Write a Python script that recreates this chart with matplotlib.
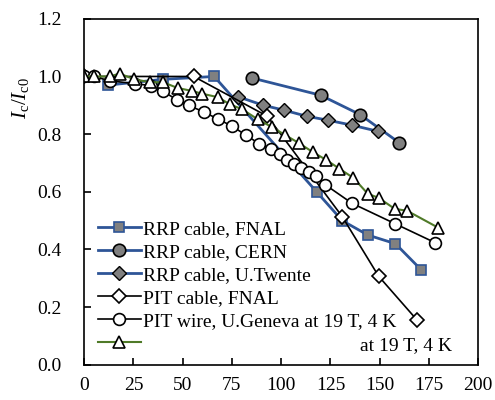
import matplotlib.pyplot as plt

plt.rcParams['font.family'] = 'Liberation Serif'
plt.rcParams['mathtext.fontset'] = 'custom'
plt.rcParams['mathtext.rm'] = 'Liberation Serif'
plt.rcParams['mathtext.it'] = 'Liberation Serif:italic'

# RRP cable, FNAL
rrp_fnal_x = [12, 40, 66, 118, 131, 144, 158, 171]
rrp_fnal_y = [0.97, 0.99, 1.0, 0.60, 0.50, 0.45, 0.42, 0.33]

# RRP cable, CERN
rrp_cern_x = [85, 120, 140, 160]
rrp_cern_y = [0.995, 0.935, 0.868, 0.77]

# RRP cable, U.Twente
rrp_tw_x = [78, 91, 101.5, 113, 124, 136, 149]
rrp_tw_y = [0.93, 0.90, 0.883, 0.862, 0.848, 0.831, 0.81]

# PIT cable, FNAL
pit_fnal_x = [0, 55.6, 93, 131, 149.5, 169]
pit_fnal_y = [1.0, 1.0, 0.862, 0.514, 0.307, 0.155]

# PIT wire, U.Geneva
pit_gen_x = [0, 5, 13, 26, 34, 40, 47, 53, 61, 68, 75, 82, 89, 95, 99.5,
             103, 106.5, 110, 114, 117.5, 122.5, 136, 157.6, 178]
pit_gen_y = [1.0, 1.0, 0.985, 0.975, 0.968, 0.948, 0.92, 0.90, 0.876, 0.852,
             0.828, 0.797, 0.766, 0.749, 0.73, 0.71, 0.695, 0.683, 0.669,
             0.655, 0.624, 0.56, 0.49, 0.424]

# sixth series (triangles)
tri_x = [0, 5, 13, 18, 25.5, 33.5, 40, 47.5, 54.6, 60, 68, 74, 80, 88, 95.4,
         102, 109, 116, 123, 129.6, 136.7, 144, 149.5, 157.6, 164, 179.6]
tri_y = [1.0, 1.0, 1.0, 1.01, 0.99, 0.98, 0.98, 0.96, 0.95, 0.94, 0.928, 0.903,
         0.887, 0.852, 0.824, 0.797, 0.769, 0.738, 0.71, 0.68, 0.648, 0.593,
         0.579, 0.541, 0.534, 0.476]

blue = '#2E5597'
green = '#4F7A28'
gray = '#808080'

fig = plt.figure(figsize=(4.95, 4.0), dpi=100)
ax = fig.add_axes([0.170, 0.088, 0.796, 0.865])

ax.plot(rrp_fnal_x, rrp_fnal_y, '-s', color=blue, lw=2.0, mfc=gray, mec=blue,
        ms=7, mew=1.2, label='RRP cable, FNAL')
ax.plot(rrp_cern_x, rrp_cern_y, '-o', color=blue, lw=2.0, mfc=gray, mec='black',
        ms=9, mew=1.2, label='RRP cable, CERN')
ax.plot(rrp_tw_x, rrp_tw_y, '-D', color=blue, lw=2.0, mfc=gray, mec='black',
        ms=7, mew=1.0, label='RRP cable, U.Twente')
ax.plot(pit_fnal_x, pit_fnal_y, '-D', color='black', lw=1.2, mfc='white', mec='black',
        ms=7, mew=1.2, label='PIT cable, FNAL')
ax.plot(pit_gen_x, pit_gen_y, '-o', color='black', lw=1.2, mfc='white', mec='black',
        ms=8.5, mew=1.2, label='PIT wire, U.Geneva at 19 T, 4 K')
ax.plot(tri_x, tri_y, '-^', color=green, lw=1.5, mfc='white', mec='black',
        ms=8.5, mew=1.2, label=' ')

ax.set_xlim(0, 200)
ax.set_ylim(0, 1.2)
ax.set_xticks([0, 25, 50, 75, 100, 125, 150, 175, 200])
ax.set_yticks([0.0, 0.2, 0.4, 0.6, 0.8, 1.0, 1.2])
ax.set_yticklabels(['0.0', '0.2', '0.4', '0.6', '0.8', '1.0', '1.2'])
ax.tick_params(direction='in', length=5, width=1.2, labelsize=14)
ax.tick_params(axis='x', pad=9)
ax.tick_params(axis='y', pad=16)
for s in ax.spines.values():
    s.set_linewidth(1.2)

ax.set_ylabel(r'$I_\mathrm{c}/I_\mathrm{c0}$', fontsize=15)
ax.yaxis.set_label_coords(-0.135, 0.77)

ax.legend(loc='lower left', bbox_to_anchor=(0.0, -0.005), frameon=False,
          fontsize=14, handlelength=2.2, handletextpad=0.15, labelspacing=0.28,
          borderaxespad=0.3)
ax.text(0.70, 0.055, 'at 19 T, 4 K', transform=ax.transAxes, fontsize=14,
        va='center', ha='left')

plt.savefig('out.png', dpi=100)
